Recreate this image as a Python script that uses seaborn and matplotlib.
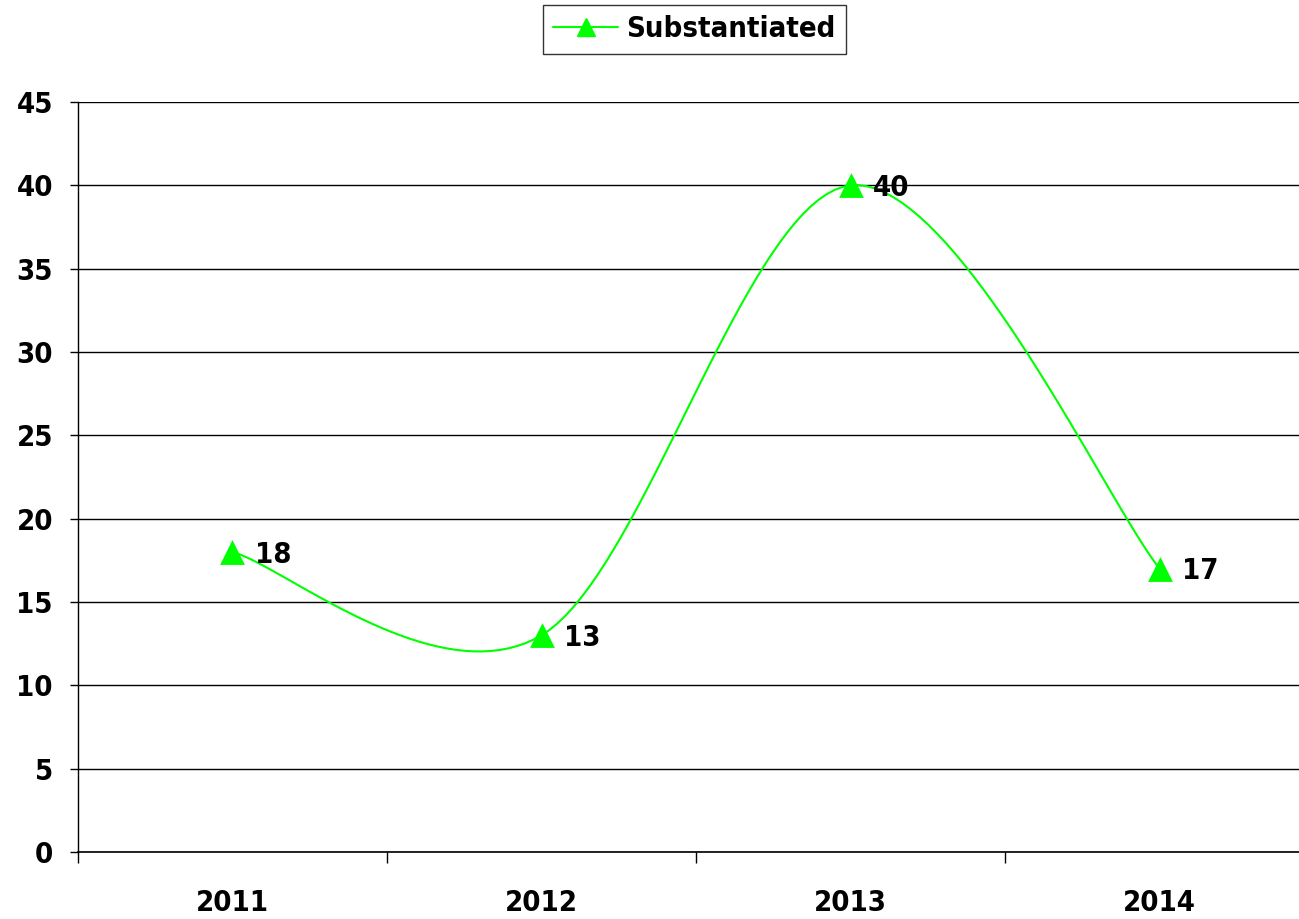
import numpy as np
import pandas as pd
import matplotlib
matplotlib.use('Agg')
import matplotlib.pyplot as plt
import seaborn as sns

# Chart data
years = ['2011', '2012', '2013', '2014']
substantiated = [18, 13, 40, 17]
y_ticks = [0, 5, 10, 15, 20, 25, 30, 35, 40, 45]

sns.set_theme(style='white')
plt.rcParams['font.family'] = ['DejaVu Sans']
plt.rcParams['font.stretch'] = 'condensed'
plt.rcParams['font.weight'] = 'bold'
plt.rcParams['text.color'] = 'black'
plt.rcParams['xtick.color'] = 'black'
plt.rcParams['ytick.color'] = 'black'

df = pd.DataFrame({'pos': np.arange(len(years)), 'value': substantiated})

# Smooth the line like Excel does (Catmull-Rom through the data points)
def catmull_rom(x, y, steps=40):
    px = np.concatenate([[x[0]], x, [x[-1]]])
    py = np.concatenate([[y[0]], y, [y[-1]]])
    xs, ys = [], []
    for i in range(1, len(px) - 2):
        t = np.linspace(0, 1, steps)
        for arr, out in ((px, xs), (py, ys)):
            p0, p1, p2, p3 = arr[i - 1], arr[i], arr[i + 1], arr[i + 2]
            out.extend(0.5 * ((2 * p1) + (-p0 + p2) * t
                              + (2 * p0 - 5 * p1 + 4 * p2 - p3) * t ** 2
                              + (-p0 + 3 * p1 - 3 * p2 + p3) * t ** 3))
    return np.array(xs), np.array(ys)

sx, sy = catmull_rom(df['pos'].values.astype(float), df['value'].values.astype(float))

fig = plt.figure(figsize=(12.99, 9.19), dpi=100)
ax = fig.add_axes([0.060, 0.073, 0.940, 0.816])

ax.plot(sx, sy, color='#00FF00', lw=1.5, zorder=3)
sns.scatterplot(data=df, x='pos', y='value', marker='^', s=320, color='#00FF00',
                edgecolor='#00FF00', linewidth=0, ax=ax, zorder=4, legend=False)

# legend handle: line + triangle
ax.plot([], [], color='#00FF00', lw=1.5, marker='^', markersize=13, label='Substantiated')

for x, v in zip(df['pos'], df['value']):
    ax.annotate(str(v), (x, v), xytext=(16, -2), textcoords='offset points',
                fontsize=21, fontweight='bold', ha='left', va='center', color='black')

ax.set_xlim(-0.5, 3.451)
ax.set_ylim(0, 45)
ax.set_yticks(y_ticks)
ax.set_yticklabels([str(t) for t in y_ticks], fontsize=21, fontweight='bold')
ax.set_xticks(df['pos'])
ax.set_xticklabels(years, fontsize=21, fontweight='bold')
ax.set_xticks(np.arange(-0.5, 3.0, 1.0), minor=True)
ax.tick_params(axis='x', which='major', length=0, pad=27)
ax.tick_params(axis='x', which='minor', bottom=True, length=8, width=1, color='black', direction='out')
ax.tick_params(axis='y', length=6, width=1, color='black', direction='out', pad=12, left=True)
ax.set_xlabel('')
ax.set_ylabel('')

ax.grid(axis='y', color='black', lw=1)
ax.set_axisbelow(True)
for s in ['top', 'right']:
    ax.spines[s].set_visible(False)
ax.spines['left'].set_color('black')
ax.spines['bottom'].set_color('black')
ax.spines['left'].set_linewidth(1)
ax.spines['bottom'].set_linewidth(1.2)

leg = ax.legend(loc='lower center', bbox_to_anchor=(0.505, 1.045), frameon=True,
                fancybox=False, edgecolor='black', fontsize=21, handlelength=2.2,
                handletextpad=0.3, borderpad=0.35)
leg.get_frame().set_linewidth(1)

fig.savefig('out.png', dpi=100)
